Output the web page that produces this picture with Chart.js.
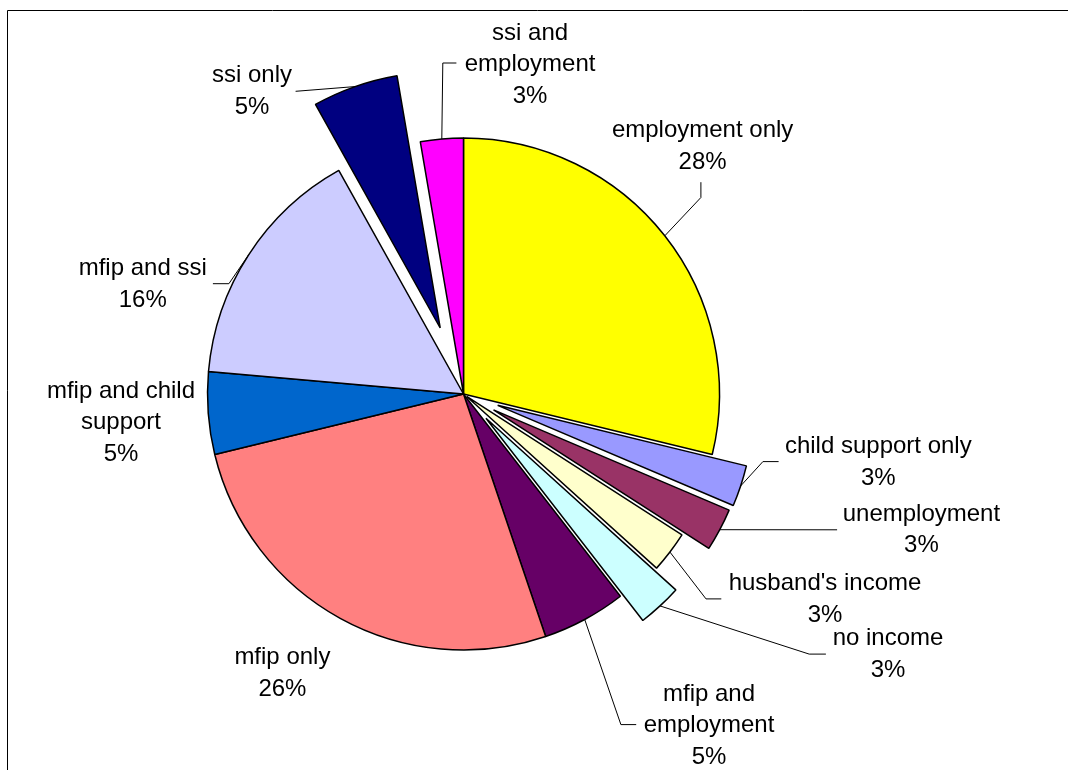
<!DOCTYPE html>
<html>
<head>
<meta charset="utf-8">
<script src="https://cdn.jsdelivr.net/npm/chart.js@4.4.1/dist/chart.umd.min.js"></script>
<style>
  html, body { margin: 0; padding: 0; background: #ffffff; }
  #wrap { position: relative; width: 1068px; height: 770px; }
</style>
</head>
<body>
<div id="wrap"><canvas id="c" width="1068" height="770"></canvas></div>
<script>
// ---------- data ----------
const categories = [
  "employment only", "child support only", "unemployment", "husband's income",
  "no income", "mfip and employment", "mfip only", "mfip and child support",
  "mfip and ssi", "ssi only", "ssi and employment"
];
const shares = [28.8, 2.6, 2.7, 2.6, 2.8, 5.3, 26.4, 5.2, 15.5, 5.4, 2.7];
const percentLabels = ["28%", "3%", "3%", "3%", "3%", "5%", "26%", "5%", "16%", "5%", "3%"];

// ---------- style / layout ----------
const sliceColors = [
  "#FFFF00", "#9999FF", "#993366", "#FFFFCC", "#CCFFFF", "#660066",
  "#FF8080", "#0066CC", "#CCCCFF", "#000080", "#FF00FF"
];
const explodePx = [0, 36, 34, 4, 33, 0, 0, 0, 0, 70, 0];
const PIE_RADIUS = 256;
const LINE_H = 31.5;
const FONT = '24px "Liberation Sans", Arial, sans-serif';
// label block centres, relative to the pie centre
const labelCenters = [
  [239.1, -247.4], [414.8, 68.5], [457.9, 135.9], [361.5, 205.6], [424.5, 260.3],
  [245.5, 331.6], [-181.1, 279.2], [-342.5, 28.5], [-320.8, -109.8], [-211.5, -302.6],
  [66.6, -329.3]
];
// leader line points after the slice edge, relative to the label centre
const leaderPaths = [
  [[-1.7, 50.9], [-1.7, 35.6]],
  [[-115.4, -0.9], [-99.7, -0.9]],
  [[-84.3, -0.1]],
  [[-119, -0.7], [-103.7, -0.7]],
  [[-78.8, -0.2], [-62.1, -0.2]],
  [[-88.1, -1], [-72.8, -1]],
  null,
  null,
  [[86.2, -0.5], [70.2, -0.5]],
  [[43.6, -0.1]],
  [[-87.3, -1.7], [-73.7, -1.7]]
];
const wrapWidths = [260, 260, 260, 260, 260, 140, 260, 160, 260, 260, 140];

function wrapText(ctx, text, maxW) {
  const words = text.split(' ');
  const lines = [];
  let cur = '';
  words.forEach(w => {
    const t = cur ? cur + ' ' + w : w;
    if (cur && ctx.measureText(t).width > maxW) { lines.push(cur); cur = w; }
    else cur = t;
  });
  if (cur) lines.push(cur);
  return lines;
}

const framePlugin = {
  id: 'frame',
  beforeDraw(chart) {
    const ctx = chart.ctx;
    ctx.save();
    ctx.fillStyle = '#ffffff';
    ctx.fillRect(0, 0, chart.width, chart.height);
    ctx.strokeStyle = '#000000';
    ctx.lineWidth = 1;
    ctx.beginPath();
    ctx.moveTo(7.5, chart.height);
    ctx.lineTo(7.5, 10.5);
    ctx.lineTo(chart.width, 10.5);
    ctx.stroke();
    ctx.restore();
  }
};

// keep exploded slices at the same radius and angular width
// (Chart.js would otherwise enlarge and narrow them)
const explodeFix = {
  id: 'explodeFix',
  afterDatasetUpdate(chart, args) {
    args.meta.data.forEach((arc, i) => {
      const t = explodePx[i];
      const fix = 1 - Math.sin(Math.min(Math.PI, arc.circumference || 0));
      const ro = t * fix;
      arc.outerRadius = PIE_RADIUS - ro;
      const delta = ro / (Math.PI * PIE_RADIUS);
      arc.startAngle -= delta / 2;
      arc.endAngle += delta / 2;
    });
  }
};

const labelPlugin = {
  id: 'sliceLabels',
  afterDatasetsDraw(chart) {
    const ctx = chart.ctx;
    const meta = chart.getDatasetMeta(0);
    const cx = meta.data[0].x, cy = meta.data[0].y;
    ctx.save();
    ctx.font = FONT;
    ctx.fillStyle = '#000000';
    ctx.textAlign = 'center';
    ctx.textBaseline = 'middle';
    meta.data.forEach((arc, i) => {
      const lx = cx + labelCenters[i][0], ly = cy + labelCenters[i][1];
      const lines = wrapText(ctx, categories[i], wrapWidths[i]).concat([percentLabels[i]]);
      lines.forEach((ln, k) => {
        ctx.fillText(ln, lx, ly + (k - (lines.length - 1) / 2) * LINE_H);
      });
      const path = leaderPaths[i];
      if (path) {
        const a = (arc.startAngle + arc.endAngle) / 2;
        const r = explodePx[i] + PIE_RADIUS;
        ctx.beginPath();
        ctx.moveTo(cx + Math.cos(a) * r, cy + Math.sin(a) * r);
        path.forEach(p => ctx.lineTo(lx + p[0], ly + p[1]));
        ctx.strokeStyle = '#000000';
        ctx.lineWidth = 1;
        ctx.stroke();
      }
    });
    ctx.restore();
  }
};

new Chart(document.getElementById('c'), {
  type: 'pie',
  data: {
    labels: categories,
    datasets: [{
      data: shares,
      backgroundColor: sliceColors,
      borderColor: '#000000',
      borderWidth: 1.5,
      offset: explodePx.map(v => v * 4),
      hoverOffset: 0,
      radius: PIE_RADIUS
    }]
  },
  options: {
    responsive: false,
    devicePixelRatio: 1,
    animation: false,
    events: [],
    layout: { padding: { left: 0, right: 141, top: 18, bottom: 0 } },
    plugins: { legend: { display: false }, tooltip: { enabled: false }, title: { display: false } }
  },
  plugins: [framePlugin, explodeFix, labelPlugin]
});
</script>
</body>
</html>
